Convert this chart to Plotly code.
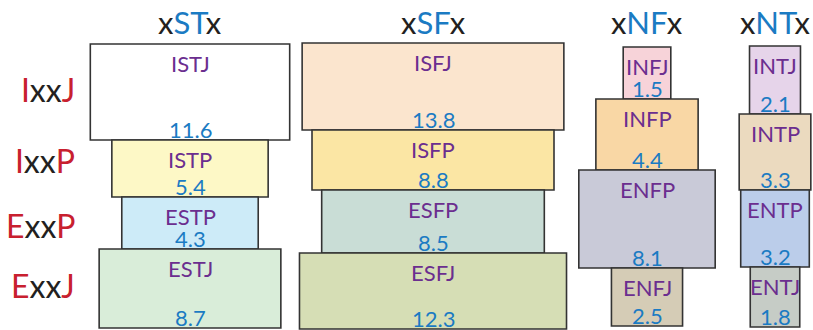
import plotly.graph_objects as go

# MBTI type shares (%), one list per temperament column, rows IxxJ, IxxP, ExxP, ExxJ
columns = ['xSTx', 'xSFx', 'xNFx', 'xNTx']
rows = ['IxxJ', 'IxxP', 'ExxP', 'ExxJ']
types = {
    'xSTx': ['ISTJ', 'ISTP', 'ESTP', 'ESTJ'],
    'xSFx': ['ISFJ', 'ISFP', 'ESFP', 'ESFJ'],
    'xNFx': ['INFJ', 'INFP', 'ENFP', 'ENFJ'],
    'xNTx': ['INTJ', 'INTP', 'ENTP', 'ENTJ'],
}
st_vals = [11.6, 5.4, 4.3, 8.7]
sf_vals = [13.8, 8.8, 8.5, 12.3]
nf_vals = [1.5, 4.4, 8.1, 2.5]
nt_vals = [2.1, 3.3, 3.2, 1.8]
values = {'xSTx': st_vals, 'xSFx': sf_vals, 'xNFx': nf_vals, 'xNTx': nt_vals}

# layout (pixel space): column centre, top of stack, box heights; box area ~ value
col_x = {'xSTx': 190, 'xSFx': 433, 'xNFx': 647, 'xNTx': 775}
col_top = {'xSTx': 44, 'xSFx': 43, 'xNFx': 47, 'xNTx': 46}
col_h = {
    'xSTx': [96, 57, 52, 79],
    'xSFx': [87, 60, 63, 76],
    'xNFx': [52, 71, 98, 58],
    'xNTx': [68, 76, 77, 60],
}
area_per_pct = 1650
row_y = [89, 160, 225, 285]

fills = {
    'xSTx': ['#FFFFFF', '#FDF8C6', '#CDEBF8', '#D9EDD9'],
    'xSFx': ['#FBE5CE', '#FBE6A4', '#C9DDD6', '#D6DEB5'],
    'xNFx': ['#F7D3D9', '#F9D7A5', '#C9CAD8', '#D5CCB6'],
    'xNTx': ['#E6D4EA', '#EBDABF', '#BBCDEA', '#C6CCC6'],
}

RED = '#C8202F'
BLUE = '#1B7BC3'
PURPLE = '#6B2E8F'
FONT = 'Lato'

fig = go.Figure()
annots = []

for c in columns:
    vals = values[c]
    hs = col_h[c]
    widths = [v * area_per_pct / h for v, h in zip(vals, hs)]
    bases = []
    y = col_top[c]
    for h in hs:
        bases.append(y)
        y += h
    fig.add_trace(go.Bar(
        x=[col_x[c]] * 4,
        y=hs,
        base=bases,
        width=widths,
        marker=dict(color=fills[c], line=dict(color='#333333', width=1.6)),
        hoverinfo='skip',
        showlegend=False,
    ))
    for i in range(4):
        annots.append(dict(x=col_x[c], y=bases[i] + 19, text=types[c][i],
                           font=dict(color=PURPLE, size=22, family=FONT)))
        annots.append(dict(x=col_x[c], y=bases[i] + hs[i] - 11, text=str(vals[i]),
                           font=dict(color=BLUE, size=22, family=FONT)))
    mid = c[1:3]
    annots.append(dict(x=col_x[c], y=22,
                       text="x<span style='color:%s'>%s</span>x" % (BLUE, mid),
                       font=dict(color='#231F20', size=31, family=FONT)))

for r, yy in zip(rows, row_y):
    annots.append(dict(x=77, y=yy, xanchor='right',
                       text="<span style='color:%s'>%s</span>xx<span style='color:%s'>%s</span>" % (RED, r[0], RED, r[3]),
                       font=dict(color='#231F20', size=32, family=FONT)))

for a in annots:
    a.setdefault('xanchor', 'center')
    a.update(xref='x', yref='y', yanchor='middle', showarrow=False)

fig.update_layout(
    width=813, height=330,
    margin=dict(l=0, r=0, t=0, b=0),
    paper_bgcolor='white', plot_bgcolor='white',
    barmode='overlay',
    annotations=annots,
    xaxis=dict(range=[0, 813], visible=False, fixedrange=True),
    yaxis=dict(range=[330, 0], visible=False, fixedrange=True),
)

# drop the page's default body margin so the figure sits at the window corner
fig.write_html('out.html', config={'displayModeBar': False},
               post_script="document.body.style.margin='0';")
